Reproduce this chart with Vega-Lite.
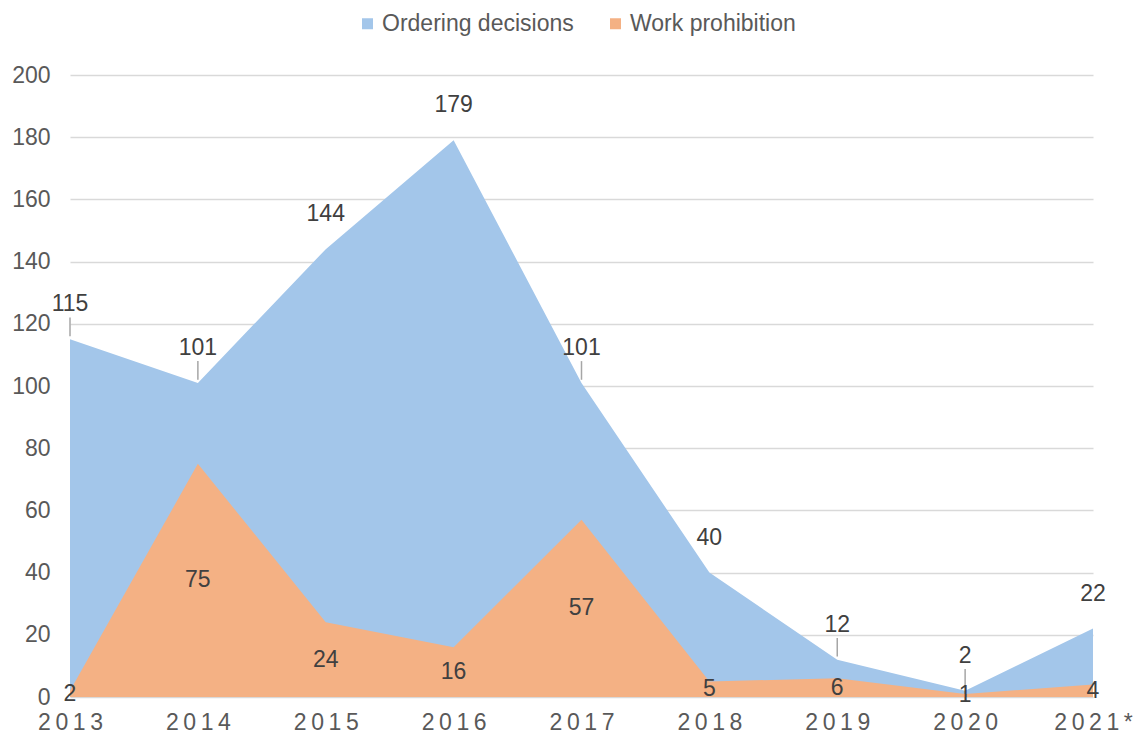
{
  "$schema": "https://vega.github.io/schema/vega-lite/v6.json",
  "width": 1023,
  "height": 622,
  "autosize": {"type": "none"},
  "padding": {"left": 70, "top": 75, "right": 48, "bottom": 46},
  "background": "white",
  "config": {
    "font": "Liberation Sans",
    "view": {"stroke": null}
  },
  "data": {
    "values": [
      {"year": "2013", "series": "Ordering decisions", "value": 115},
      {"year": "2014", "series": "Ordering decisions", "value": 101},
      {"year": "2015", "series": "Ordering decisions", "value": 144},
      {"year": "2016", "series": "Ordering decisions", "value": 179},
      {"year": "2017", "series": "Ordering decisions", "value": 101},
      {"year": "2018", "series": "Ordering decisions", "value": 40},
      {"year": "2019", "series": "Ordering decisions", "value": 12},
      {"year": "2020", "series": "Ordering decisions", "value": 2},
      {"year": "2021*", "series": "Ordering decisions", "value": 22},
      {"year": "2013", "series": "Work prohibition", "value": 2},
      {"year": "2014", "series": "Work prohibition", "value": 75},
      {"year": "2015", "series": "Work prohibition", "value": 24},
      {"year": "2016", "series": "Work prohibition", "value": 16},
      {"year": "2017", "series": "Work prohibition", "value": 57},
      {"year": "2018", "series": "Work prohibition", "value": 5},
      {"year": "2019", "series": "Work prohibition", "value": 6},
      {"year": "2020", "series": "Work prohibition", "value": 1},
      {"year": "2021*", "series": "Work prohibition", "value": 4}
    ]
  },
  "encoding": {
    "x": {
      "field": "year",
      "type": "ordinal",
      "scale": {"type": "point", "padding": 0},
      "axis": {
        "title": null,
        "labelAngle": 0,
        "labelFontSize": 23,
        "labelColor": "#595959",
        "labelPadding": 14,
        "labelExpr": "join(split(datum.label, ''), '\u2009')",
        "ticks": false,
        "domain": false,
        "grid": false
      }
    }
  },
  "layer": [
    {
      "mark": {"type": "area", "opacity": 1, "line": false},
      "encoding": {
        "y": {
          "field": "value",
          "type": "quantitative",
          "stack": null,
          "scale": {"domain": [0, 200]},
          "axis": {
            "title": null,
            "values": [0, 20, 40, 60, 80, 100, 120, 140, 160, 180, 200],
            "labelFontSize": 23,
            "labelColor": "#595959",
            "labelPadding": 20,
            "ticks": false,
            "domain": false,
            "gridColor": "#d9d9d9",
            "gridWidth": 1.5
          }
        },
        "color": {
          "field": "series",
          "type": "nominal",
          "scale": {
            "domain": ["Ordering decisions", "Work prohibition"],
            "range": ["#a3c6ea", "#f4b184"]
          },
          "legend": {
            "title": null,
            "orient": "none",
            "direction": "horizontal",
            "legendX": 286,
            "legendY": -63,
            "symbolType": "square",
            "symbolSize": 121,
            "symbolStrokeWidth": 0,
            "labelFontSize": 23,
            "labelColor": "#595959",
            "labelOffset": 3,
            "labelLimit": 400,
            "columnPadding": 30
          }
        },
        "order": {"field": "series"}
      }
    },
    {
      "transform": [
        {"filter": "datum.series == 'Ordering decisions' && indexof(['2013','2014','2017','2019','2020'], datum.year) >= 0"},
        {"calculate": "datum.value + 1", "as": "lead0"},
        {"calculate": "datum.value + 7", "as": "lead1"}
      ],
      "mark": {"type": "rule", "color": "#a6a6a6", "strokeWidth": 1.5},
      "encoding": {
        "y": {"field": "lead0", "type": "quantitative"},
        "y2": {"field": "lead1"}
      }
    },
    {
      "transform": [{"filter": "datum.series == 'Ordering decisions'"}],
      "mark": {"type": "text", "fontSize": 23, "color": "#404040", "baseline": "alphabetic", "dy": -28},
      "encoding": {
        "y": {"field": "value", "type": "quantitative"},
        "text": {"field": "value", "type": "quantitative"}
      }
    },
    {
      "transform": [
        {"filter": "datum.series == 'Work prohibition'"},
        {"calculate": "datum.value / 2", "as": "half"}
      ],
      "mark": {"type": "text", "fontSize": 23, "color": "#404040", "baseline": "middle"},
      "encoding": {
        "y": {"field": "half", "type": "quantitative"},
        "text": {"field": "value", "type": "quantitative"}
      }
    }
  ]
}
